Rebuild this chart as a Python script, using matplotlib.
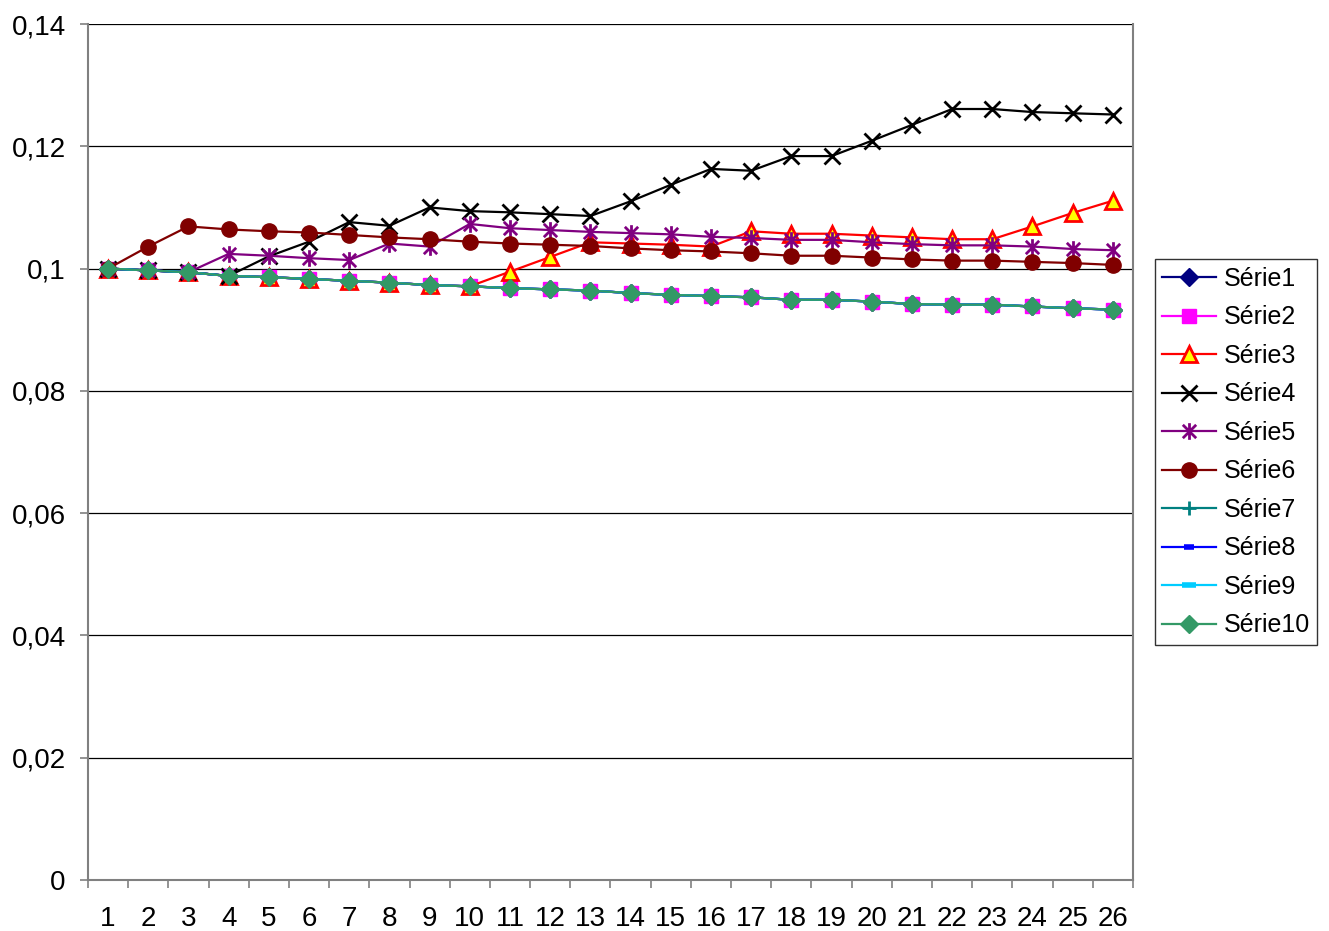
import numpy as np
import matplotlib.pyplot as plt
from matplotlib.path import Path

plt.rcParams['font.family'] = ['Liberation Sans', 'DejaVu Sans']

x = list(range(1, 27))

# common decreasing curve (Série1, 2, 7, 8, 9, 10)
base = [0.1, 0.0997, 0.0994, 0.0988, 0.0986, 0.0983, 0.0980, 0.0977, 0.0973, 0.0971,
        0.0968, 0.0966, 0.0964, 0.0960, 0.0957, 0.0955, 0.0953, 0.0949, 0.0949, 0.0946,
        0.0942, 0.0941, 0.0941, 0.0938, 0.0935, 0.0933]
serie1 = base
serie2 = base
serie3 = [0.1, 0.0997, 0.0994, 0.0988, 0.0986, 0.0983, 0.0980, 0.0977, 0.0973, 0.0971,
          0.0995, 0.1019, 0.1043, 0.1041, 0.1039, 0.1036, 0.1061, 0.1057, 0.1057, 0.1054,
          0.1051, 0.1048, 0.1048, 0.1069, 0.1091, 0.1111]
serie4 = [0.1, 0.0997, 0.0994, 0.0988, 0.1020, 0.1044, 0.1076, 0.1070, 0.1100, 0.1094,
          0.1092, 0.1089, 0.1086, 0.1110, 0.1137, 0.1163, 0.1160, 0.1184, 0.1184, 0.1209,
          0.1235, 0.1261, 0.1261, 0.1256, 0.1254, 0.1252]
serie5 = [0.1, 0.0997, 0.0994, 0.1024, 0.1021, 0.1017, 0.1014, 0.1041, 0.1036, 0.1073,
          0.1066, 0.1063, 0.1060, 0.1058, 0.1056, 0.1052, 0.1050, 0.1047, 0.1047, 0.1043,
          0.1040, 0.1038, 0.1038, 0.1036, 0.1032, 0.1030]
serie6 = [0.1, 0.1036, 0.1069, 0.1064, 0.1061, 0.1059, 0.1055, 0.1051, 0.1048, 0.1044,
          0.1041, 0.1039, 0.1037, 0.1033, 0.1030, 0.1028, 0.1025, 0.1021, 0.1021, 0.1018,
          0.1015, 0.1013, 0.1013, 0.1011, 0.1009, 0.1006]
serie7 = base
serie8 = base
serie9 = base
serie10 = base

ytick_vals = [0, 0.02, 0.04, 0.06, 0.08, 0.1, 0.12, 0.14]
ytick_labels = ['0', '0,02', '0,04', '0,06', '0,08', '0,1', '0,12', '0,14']

# asterisk: vertical bar + X
star = Path([(0, -1), (0, 1), (-0.8, -0.8), (0.8, 0.8), (-0.8, 0.8), (0.8, -0.8)],
            [Path.MOVETO, Path.LINETO, Path.MOVETO, Path.LINETO, Path.MOVETO, Path.LINETO])

fig = plt.figure(figsize=(13.29, 9.31), dpi=100)
ax = fig.add_axes([0.0662, 0.0548, 0.7863, 0.9194])

lw = 1.6
ax.plot(x, serie1, color='#000080', lw=lw, marker='D', ms=9, label='Série1')
ax.plot(x, serie2, color='#FF00FF', lw=lw, marker='s', ms=10, label='Série2')
ax.plot(x, serie3, color='#FF0000', lw=lw, marker='^', ms=12, mfc='#FFFF00',
        mec='#FF0000', mew=2, label='Série3')
ax.plot(x, serie4, color='#000000', lw=lw, marker='x', ms=12, mew=2, label='Série4')
ax.plot(x, serie5, color='#800080', lw=lw, marker=star, ms=12, mew=2, mfc='none',
        label='Série5')
ax.plot(x, serie6, color='#800000', lw=lw, marker='o', ms=11, label='Série6')
ax.plot(x, serie7, color='#008080', lw=lw, marker='+', ms=10, mew=2, label='Série7')
ax.plot(x, serie8, color='#0000FF', lw=lw, marker='_', ms=7, mew=4, label='Série8')
ax.plot(x, serie9, color='#00CCFF', lw=lw, marker='_', ms=10, mew=4, label='Série9')
ax.plot(x, serie10, color='#339966', lw=lw, marker='D', ms=9, label='Série10')

ax.set_xlim(0.5, 26.5)
ax.set_ylim(0, 0.14)

ax.set_yticks(ytick_vals)
ax.set_yticklabels(ytick_labels)
ax.yaxis.grid(True, color='black', lw=0.9)
ax.set_axisbelow(True)

ax.set_xticks(np.arange(0.5, 27, 1))
ax.set_xticklabels([])
ax.set_xticks(x, minor=True)
ax.set_xticklabels([str(i) for i in x], minor=True)
ax.tick_params(axis='x', which='minor', length=0, pad=19, labelsize=20)
ax.tick_params(axis='x', which='major', length=6, width=1.2, color='#808080')
ax.tick_params(axis='y', length=6, width=1.2, color='#808080', labelsize=20, pad=10)

for side in ['left', 'bottom', 'right']:
    ax.spines[side].set_color('#808080')
    ax.spines[side].set_linewidth(1.5)
ax.spines['top'].set_visible(False)

leg = ax.legend(loc='center left', bbox_to_anchor=(1.021, 0.5), fontsize=18,
                frameon=True, fancybox=False, edgecolor='black',
                handlelength=2.15, handletextpad=0.3, labelspacing=0.58,
                borderpad=0.3, borderaxespad=0)
leg.get_frame().set_linewidth(1.0)

fig.savefig('out.png', dpi=100)
